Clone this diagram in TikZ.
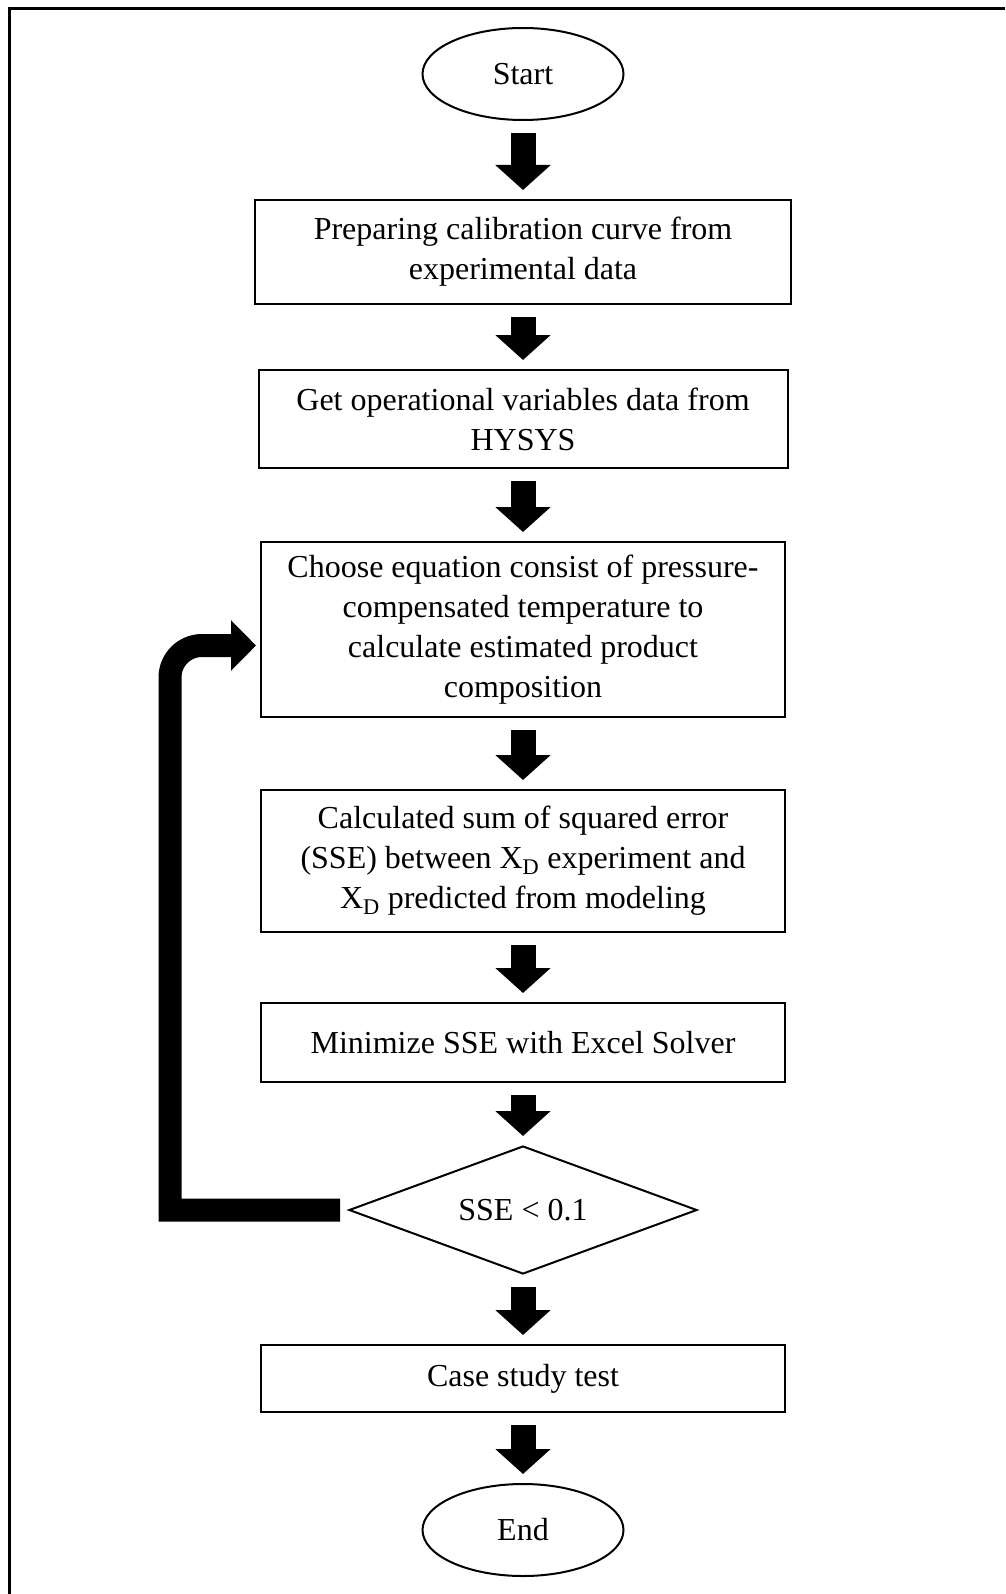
\documentclass[tikz,border=0pt]{standalone}
\usepackage{fontspec}
\setmainfont{Liberation Serif}
\usetikzlibrary{arrows.meta,shapes.geometric,positioning}

\begin{document}
\begin{tikzpicture}[
	x = 1pt, y = -1pt,
	node distance = 70pt,
	font = \fontsize{32}{40}\selectfont,
	every node/.style = {align=center, inner sep=4pt},
	box/.style = {draw, line width=2pt, minimum width=524pt},
	terminal/.style = {draw, ellipse, line width=2pt, minimum width=201pt, minimum height=92pt},
	decision/.style = {draw, diamond, line width=2pt, aspect=2.7, minimum width=348pt, minimum height=128pt},
	flow/.style = {line width=25pt, -{Triangle[length=25pt,width=54pt]}, shorten <=12pt, shorten >=9pt},
	loopback/.style = {line width=23pt, -{Triangle[length=25pt,width=49pt]}}
	]
	\useasboundingbox (0,0) rectangle (1005,1594);
	\draw[line width=3pt] (1005,8.5) -- (9,8.5) -- (9,1594);
	\node[terminal] (start) at (523,74) {Start};
	\node[box, minimum width=536pt, minimum height=104pt] (prep) [below=78pt of start]
		{Preparing calibration curve from\\experimental data};
	\node[box, minimum width=529pt, minimum height=98pt] (hysys) [below=64pt of prep]
		{Get operational variables data from\\HYSYS};
	\node[box, minimum height=175pt] (eqn) [below=72pt of hysys]
		{Choose equation consist of pressure-\\compensated temperature to\\calculate estimated product\\composition};
	\node[box, minimum height=142pt] (sse) [below=71pt of eqn]
		{Calculated sum of squared error\\(SSE) between X\textsubscript{D} experiment and\\X\textsubscript{D} predicted from modeling};
	\node[box, minimum height=79pt] (solver) [below=69pt of sse] {Minimize SSE with Excel Solver};
	\node[decision] (check) [below=62pt of solver] {SSE < 0.1};
	\node[box, minimum height=67pt] (case) [below=69pt of check] {Case study test};
	\node[terminal] (end) [below=70pt of case] {End};
	% main flow
	\draw[flow] (start.south)  -- (prep.north);
	\draw[flow] (prep.south)   -- (hysys.north);
	\draw[flow] (hysys.south)  -- (eqn.north);
	\draw[flow] (eqn.south)    -- (sse.north);
	\draw[flow] (sse.south)    -- (solver.north);
	\draw[flow] (solver.south) -- (check.north);
	\draw[flow] (check.south)  -- (case.north);
	\draw[flow] (case.south)   -- (end.north);
	% back to the equation
	\draw[loopback] ([xshift=-8pt]check.west) -- ++(-170,0) [rounded corners=32pt]
		|- ([xshift=-4pt,yshift=-16pt]eqn.west);
\end{tikzpicture}
\end{document}
